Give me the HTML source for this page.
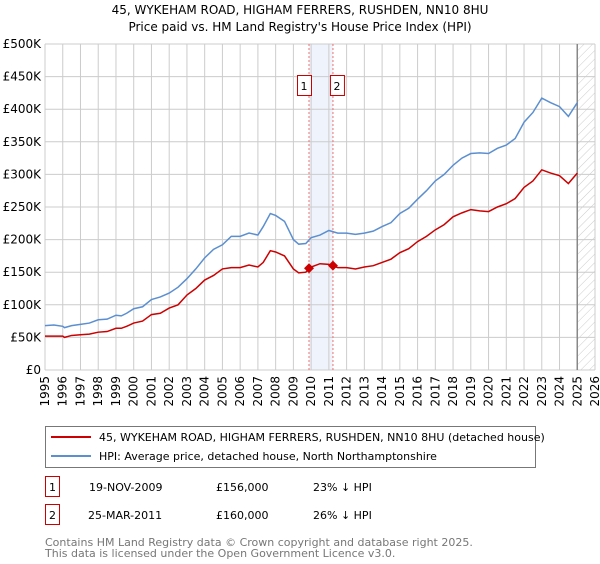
<!DOCTYPE html>
<html><head><meta charset="utf-8"><style>
body{margin:0;background:#fff;font-family:"DejaVu Sans","Liberation Sans",sans-serif;}
svg text{font-family:"DejaVu Sans","Liberation Sans",sans-serif;}
</style></head><body>
<svg id="c" width="600" height="560" xmlns="http://www.w3.org/2000/svg">
<defs><pattern id="hatch" width="6" height="6" patternUnits="userSpaceOnUse" patternTransform="rotate(45)"><line x1="0" y1="0" x2="0" y2="6" stroke="#ccc" stroke-width="1"/></pattern></defs>
<text x="300" y="14" text-anchor="middle" font-size="12" fill="#000">45, WYKEHAM ROAD, HIGHAM FERRERS, RUSHDEN, NN10 8HU</text>
<text x="300" y="31" text-anchor="middle" font-size="12" fill="#000">Price paid vs. HM Land Registry's House Price Index (HPI)</text>
<g id="grid"></g>
<g id="marks"></g>
<rect x="45.5" y="426.5" width="490" height="41" fill="#fff" stroke="#777"/>
<line x1="51" y1="437" x2="91" y2="437" stroke="#cc0000" stroke-width="2"/>
<text x="99" y="441" font-size="11">45, WYKEHAM ROAD, HIGHAM FERRERS, RUSHDEN, NN10 8HU (detached house)</text>
<line x1="51" y1="456" x2="91" y2="456" stroke="#5b8fd0" stroke-width="2"/>
<text x="99" y="460" font-size="11">HPI: Average price, detached house, North Northamptonshire</text>
<g>
<rect x="45.5" y="476.5" width="14" height="20" fill="#fff" stroke="#cc0000"/>
<text x="52.5" y="491" text-anchor="middle" font-size="11">1</text>
<text x="89" y="491" font-size="11">19-NOV-2009</text>
<text x="216" y="491" font-size="11">£156,000</text>
<text x="313" y="491" font-size="11">23% ↓ HPI</text></g>
<g>
<rect x="45.5" y="504.5" width="14" height="20" fill="#fff" stroke="#cc0000"/>
<text x="52.5" y="519" text-anchor="middle" font-size="11">2</text>
<text x="88" y="519" font-size="11">25-MAR-2011</text>
<text x="216" y="519" font-size="11">£160,000</text>
<text x="313" y="519" font-size="11">26% ↓ HPI</text></g>
</svg>
<script>
const years=[];for(let y=1995;y<=2026;y++)years.push(y);
const yTicks=[0,50,100,150,200,250,300,350,400,450,500];
const yTickLabels=["£0","£50K","£100K","£150K","£200K","£250K","£300K","£350K","£400K","£450K","£500K"];
const hpiDates=[1995,1995.5,1996,1996.1,1996.5,1997,1997.5,1998,1998.5,1999,1999.3,1999.6,2000,2000.5,2001,2001.5,2002,2002.5,2003,2003.5,2004,2004.5,2005,2005.5,2006,2006.5,2007,2007.3,2007.7,2008,2008.5,2009,2009.3,2009.7,2010,2010.5,2011,2011.5,2012,2012.5,2013,2013.5,2014,2014.5,2015,2015.5,2016,2016.5,2017,2017.5,2018,2018.5,2019,2019.5,2020,2020.5,2021,2021.5,2022,2022.5,2023,2023.5,2024,2024.5,2025];
const hpiValues=[68,69,67,65,68,70,72,77,78,84,83,87,94,97,108,112,118,127,140,155,172,185,192,205,205,210,207,220,240,237,228,200,193,194,203,207,214,210,210,208,210,213,220,226,240,248,262,275,290,300,314,325,332,333,332,340,345,355,380,395,417,410,404,389,410];
const priceDates=hpiDates;
const priceValues=[52,52,52,50,53,54,55,58,59,64,64,67,72,75,85,87,95,100,115,125,138,145,155,157,157,161,158,165,183,181,175,155,149,150,158,163,162,157,157,155,158,160,165,170,180,186,197,205,215,223,235,241,246,244,243,250,255,263,280,290,307,302,298,286,302];
const saleDates=[2009.88,2011.23];
const salePrices=[156,160];
const X0=45,X1=595,Y0=370,Y1=44;
const xs=d=>X0+(d-1995)/(2026-1995)*(X1-X0);
const ys=v=>Y0-v/500*(Y0-Y1);
const NS="http://www.w3.org/2000/svg";
const svg=document.getElementById('c'),grid=document.getElementById('grid'),marks=document.getElementById('marks');
function mk(tag,attrs,parent){const e=document.createElementNS(NS,tag);for(const k in attrs)e.setAttribute(k,attrs[k]);parent.appendChild(e);return e;}
const band=mk('rect',{x:xs(saleDates[0]),y:Y1,width:xs(saleDates[1])-xs(saleDates[0]),height:Y0-Y1,fill:'#eef3fc'},grid);


const hat=mk('rect',{x:xs(2025),y:Y1,width:X1-xs(2025),height:Y0-Y1,fill:'url(#hatch)'},grid);


yTicks.forEach((t,i)=>{
 const l=mk('line',{x1:X0,x2:X1,y1:ys(t),y2:ys(t),stroke:'#ccc'},grid);
 
 
 const tx=mk('text',{x:X0-4,y:ys(t)+4,'text-anchor':'end','font-size':'12'},grid);
 tx.textContent=yTickLabels[i];
 
 
});
years.forEach(y=>{
 const l=mk('line',{x1:xs(y),x2:xs(y),y1:Y1,y2:Y0,stroke:'#ccc'},grid);
 
 
 const tx=mk('text',{x:0,y:0,'text-anchor':'end','font-size':'12',transform:`translate(${xs(y)+4},${Y0+6}) rotate(-90)`},grid);
 tx.textContent=y;
 
 
});
const nl=mk('line',{x1:xs(2025),x2:xs(2025),y1:Y1,y2:Y0,stroke:'#888','stroke-width':1.5},grid);


saleDates.forEach((d,i)=>{
 const l=mk('line',{x1:xs(d),x2:xs(d),y1:Y1,y2:Y0,stroke:'#f07070','stroke-dasharray':'2,2'},marks);
 
 
});
const hp=mk('polyline',{points:hpiDates.map((d,i)=>xs(d)+','+ys(hpiValues[i])).join(' '),fill:'none',stroke:'#5b8fd0','stroke-width':1.5},marks);


const pp=mk('polyline',{points:priceDates.map((d,i)=>xs(d)+','+ys(priceValues[i])).join(' '),fill:'none',stroke:'#cc0000','stroke-width':1.5},marks);


saleDates.forEach((d,i)=>{
 const x=xs(d),y=ys(salePrices[i]);
 const p=mk('polygon',{points:`${x},${y-5} ${x+5},${y} ${x},${y+5} ${x-5},${y}`,fill:'#cc0000'},marks);
 
 
 const r=mk('rect',{x:(i===0?x-12:x-3)+0.5,y:75.5,width:14,height:20,fill:'#fff',stroke:'#cc0000'},marks);
 
 
 const t=mk('text',{x:(i===0?x-5:x+4),y:90,'text-anchor':'middle','font-size':'11'},marks);
 t.textContent=String(i+1);
 
 
});
const f1=mk('text',{x:45,y:546,'font-size':'11',fill:'#777'},svg);
f1.textContent='Contains HM Land Registry data © Crown copyright and database right 2025.';


const f2=mk('text',{x:45,y:557,'font-size':'11',fill:'#777'},svg);
f2.textContent='This data is licensed under the Open Government Licence v3.0.';


</script>
</body></html>
